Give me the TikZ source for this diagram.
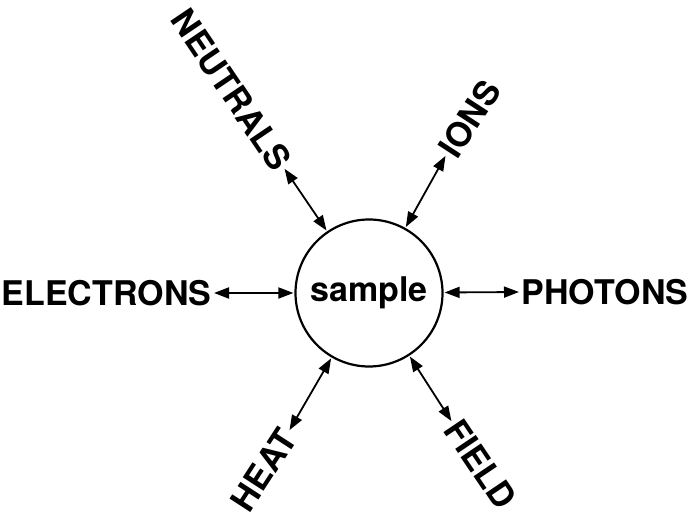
\documentclass[tikz,border=0pt]{standalone}
\usepackage{fontspec}
\setmainfont{TeX Gyre Heros}
\usetikzlibrary{arrows.meta}
\begin{document}
\begin{tikzpicture}[x=1pt,y=1pt,
  label/.style={font=\fontsize{34}{34}\selectfont\bfseries, inner sep=1.5pt,
                text height=24.5pt, text depth=0pt},
  link/.style={line width=1.8pt,
               {Triangle[length=15pt,width=11pt]}-{Triangle[length=15pt,width=11pt]},
               shorten <=1pt, shorten >=1pt}]
  \useasboundingbox (0,0) rectangle (692,513);

  % central sample
  \node[draw, circle, line width=2.2pt, minimum size=147pt, inner sep=0pt,
        font=\fontsize{34}{34}\selectfont\bfseries] (sample) at (369,220) {sample};

  % probes and emissions around the sample
  \node[label, anchor=east] (electrons) at (213,220) {ELECTRONS};
  \node[label, anchor=west] (photons) at (520,221) {PHOTONS};
  \node[label, anchor=east, rotate=-56] (neutrals) at (284,345) {NEUTRALS};
  \node[label, anchor=west, rotate=57] (ions) at (446,358) {IONS};
  \node[label, anchor=east, rotate=57] (heat) at (289,82) {HEAT};
  \node[label, anchor=west, rotate=-56] (field) at (452,91) {FIELD};

  % two-way exchanges
  \draw[link] (electrons.east) -- (sample);
  \draw[link] (photons.west) -- (sample);
  \draw[link] (neutrals.east) -- (sample);
  \draw[link] (ions.west) -- (sample);
  \draw[link] (heat.east) -- (sample);
  \draw[link] (field.west) -- (sample);
\end{tikzpicture}
\end{document}
